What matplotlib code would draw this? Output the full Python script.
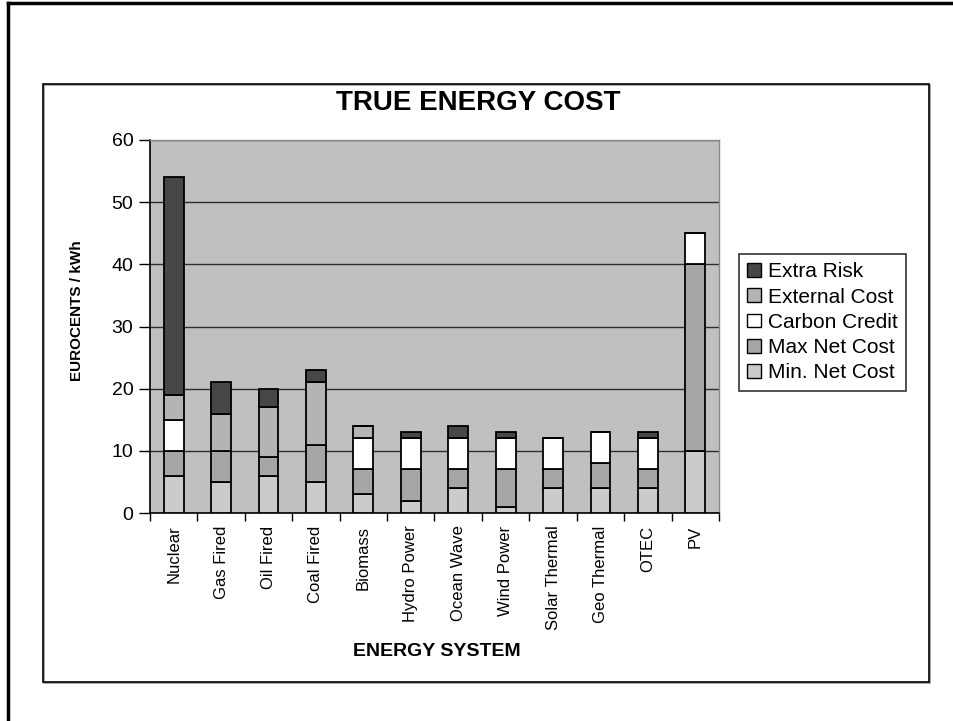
import numpy as np
import matplotlib.pyplot as plt
from matplotlib.patches import Rectangle
from matplotlib.lines import Line2D

plt.rcParams['font.family'] = ['Liberation Sans', 'DejaVu Sans']

# datos (euro-centimos / kWh, apilados)
systems = ["Nuclear", "Gas Fired", "Oil Fired", "Coal Fired", "Biomass", "Hydro Power",
           "Ocean Wave", "Wind Power", "Solar Thermal", "Geo Thermal", "OTEC", "PV"]
min_net = [6, 5, 6, 5, 3, 2, 4, 1, 4, 4, 4, 10]
max_net = [4, 5, 3, 6, 4, 5, 3, 6, 3, 4, 3, 30]
carbon_credit = [5, 0, 0, 0, 5, 5, 5, 5, 5, 5, 5, 5]
external_cost = [4, 6, 8, 10, 2, 0, 0, 0, 0, 0, 0, 0]
extra_risk = [35, 5, 3, 2, 0, 1, 2, 1, 0, 0, 1, 0]

series = [
    ("Min. Net Cost", min_net, "#cbcbcb"),
    ("Max Net Cost", max_net, "#a6a6a6"),
    ("Carbon Credit", carbon_credit, "#ffffff"),
    ("External Cost", external_cost, "#b4b4b4"),
    ("Extra Risk", extra_risk, "#474747"),
]

W, H = 954, 721
fig = plt.figure(figsize=(W / 100, H / 100), dpi=100)

# marcos exteriores
fig.add_artist(Line2D([8 / W, 1], [1 - 3 / H, 1 - 3 / H], color='black', lw=2.5, transform=fig.transFigure))
fig.add_artist(Line2D([8 / W, 8 / W], [0, 1 - 3 / H], color='black', lw=2.5, transform=fig.transFigure))
fig.add_artist(Rectangle((44 / W, 38 / H), 886 / W, 598 / H, transform=fig.transFigure,
                         facecolor='none', edgecolor='#999999', lw=1.2))
fig.add_artist(Rectangle((43 / W, 39 / H), 886 / W, 598 / H, transform=fig.transFigure,
                         facecolor='none', edgecolor='black', lw=1.2))

ax = fig.add_axes([150 / W, 1 - 513 / H, 569 / W, 373 / H])
ax.set_facecolor('#c0c0c0')

x = np.arange(len(systems))
bottom = np.zeros(len(systems))
handles = []
for label, vals, color in series:
    vals = np.array(vals, dtype=float)
    b = ax.bar(x, vals, width=0.42, bottom=bottom, color=color, edgecolor='black',
               linewidth=1.3, label=label, zorder=3)
    handles.append(b)
    bottom += vals

ax.set_ylim(0, 60)
ax.set_xlim(-0.5, len(systems) - 0.5)
ax.set_yticks(range(0, 61, 10))
ax.yaxis.grid(True, color='#2e2e2e', lw=1.0, zorder=0)
ax.set_axisbelow(True)

# ticks del eje x entre categorias
ax.set_xticks(x)
ax.set_xticklabels(systems, rotation=90, fontsize=12)
ax.set_xticks(np.arange(-0.5, len(systems), 1), minor=True)
ax.tick_params(axis='x', which='major', length=0, pad=9)
ax.tick_params(axis='x', which='minor', length=6, width=1, color='black', direction='out')
ax.tick_params(axis='y', length=8, width=1, direction='out', labelsize=14, pad=4)

for s in ['top', 'right']:
    ax.spines[s].set_color('#8c8c8c')
    ax.spines[s].set_linewidth(1)
for s in ['left', 'bottom']:
    ax.spines[s].set_color('black')
    ax.spines[s].set_linewidth(1.2)

fig.text(478 / W, 1 - 103 / H, "TRUE ENERGY COST", ha='center', va='center',
         fontsize=20, fontweight='bold')
fig.text(77 / W, 1 - 311 / H, "EUROCENTS / kWh", ha='center', va='center',
         rotation=90, fontsize=11, fontweight='bold')
fig.text(437 / W, 1 - 652 / H, "ENERGY SYSTEM", ha='center', va='center',
         fontsize=14, fontweight='bold')

leg = fig.legend(handles[::-1], [s[0] for s in series][::-1], loc='upper left',
                 bbox_to_anchor=(739 / W, 1 - 254 / H), bbox_transform=fig.transFigure,
                 fontsize=15, frameon=True, fancybox=False, handlelength=0.65,
                 handleheight=0.65, handletextpad=0.35, labelspacing=0.3,
                 borderpad=0.4, borderaxespad=0)
leg.get_frame().set_edgecolor('black')
leg.get_frame().set_linewidth(1.2)
for h in leg.legend_handles:
    h.set_linewidth(1)

fig.savefig("out.png", dpi=100)
